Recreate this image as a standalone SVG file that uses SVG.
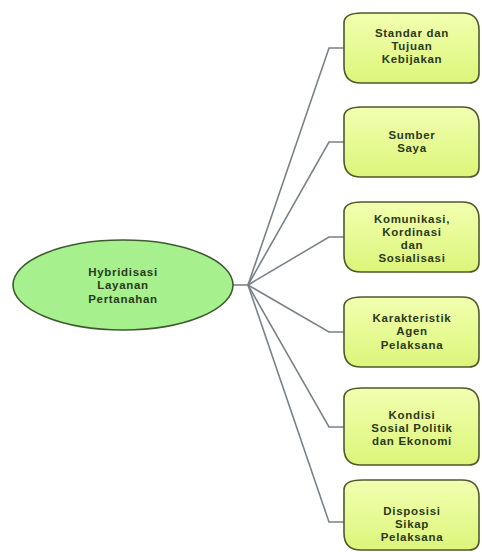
<svg xmlns="http://www.w3.org/2000/svg" width="482" height="552" viewBox="0 0 482 552">
<defs>
<linearGradient id="ng" x1="0" y1="0" x2="0" y2="1">
<stop offset="0" stop-color="#f2ffb0"/>
<stop offset="1" stop-color="#dcf57a"/>
</linearGradient>
<style>
.n{fill:url(#ng);stroke:#4d5a2a;stroke-width:1.6}
.e{fill:#a6f08e;stroke:#3f5a30;stroke-width:1.6}
.c{fill:none;stroke:#7a8288;stroke-width:1.6}
.t{font-family:"Liberation Sans",Arial,sans-serif;font-size:11.5px;font-weight:bold;letter-spacing:0.7px;fill:#2a3a18;text-anchor:middle;dominant-baseline:central}
</style>
</defs>
<rect width="482" height="552" fill="#fff"/>
<g id="connectors">
<path class="c" d="M233,285 H248"/>
<path class="c" d="M248,285 L329,48 H344"/>
<path class="c" d="M248,285 L329,142 H344"/>
<path class="c" d="M248,285 L329,237 H344"/>
<path class="c" d="M248,285 L329,332 H344"/>
<path class="c" d="M248,285 L329,427 H344"/>
<path class="c" d="M248,285 L329,522 H344"/>
</g>
<g id="root">
<ellipse class="e" cx="123" cy="285" rx="110" ry="45"/>
<text class="t" x="123" y="272">Hybridisasi</text>
<text class="t" x="123" y="285">Layanan</text>
<text class="t" x="123" y="299">Pertanahan</text>
</g>
<g id="n1">
<path class="n" d="M362,13 H462 Q479,13 479,30 V73 Q479,83 469,83 H361 Q344,83 344,66 V23 Q344,13 362,13 Z"/>
<text class="t" x="412" y="33">Standar dan</text>
<text class="t" x="412" y="46">Tujuan</text>
<text class="t" x="412" y="59">Kebijakan</text>
</g>
<g id="n2">
<path class="n" d="M362,107 H462 Q479,107 479,124 V167 Q479,177 469,177 H361 Q344,177 344,160 V117 Q344,107 362,107 Z"/>
<text class="t" x="412" y="135">Sumber</text>
<text class="t" x="412" y="148">Saya</text>
</g>
<g id="n3">
<path class="n" d="M362,202 H462 Q479,202 479,219 V262 Q479,272 469,272 H361 Q344,272 344,255 V212 Q344,202 362,202 Z"/>
<text class="t" x="412" y="219">Komunikasi,</text>
<text class="t" x="412" y="232">Kordinasi</text>
<text class="t" x="412" y="245">dan</text>
<text class="t" x="412" y="258">Sosialisasi</text>
</g>
<g id="n4">
<path class="n" d="M362,297 H462 Q479,297 479,314 V357 Q479,367 469,367 H361 Q344,367 344,350 V307 Q344,297 362,297 Z"/>
<text class="t" x="412" y="318">Karakteristik</text>
<text class="t" x="412" y="331">Agen</text>
<text class="t" x="412" y="345">Pelaksana</text>
</g>
<g id="n5">
<path class="n" d="M362,388 H462 Q479,388 479,405 V455 Q479,465 469,465 H361 Q344,465 344,448 V398 Q344,388 362,388 Z"/>
<text class="t" x="412" y="415">Kondisi</text>
<text class="t" x="412" y="428">Sosial Politik</text>
<text class="t" x="412" y="441">dan Ekonomi</text>
</g>
<g id="n6">
<path class="n" d="M362,480 H462 Q479,480 479,497 V540 Q479,550 469,550 H361 Q344,550 344,533 V490 Q344,480 362,480 Z"/>
<text class="t" x="412" y="511">Disposisi</text>
<text class="t" x="412" y="524">Sikap</text>
<text class="t" x="412" y="537">Pelaksana</text>
</g>
</svg>
